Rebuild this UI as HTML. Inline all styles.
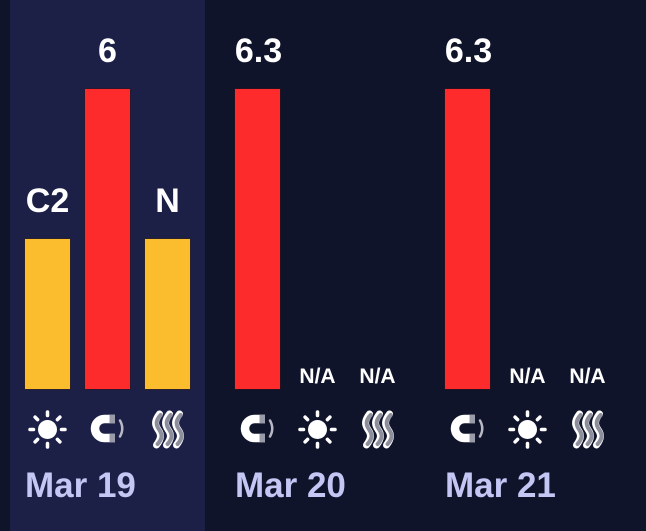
<!DOCTYPE html>
<html>
<head>
<meta charset="utf-8">
<style>
  html, body { margin: 0; padding: 0; background: #10142b; }
  svg { display: block; }
  text { font-family: "Liberation Sans", Arial, sans-serif; font-weight: bold; }
</style>
</head>
<body>
<svg width="646" height="531" viewBox="0 0 646 531" xmlns="http://www.w3.org/2000/svg">
  <defs>
    <g id="sun">
      <circle cx="0" cy="0" r="9.5" fill="#ffffff"/>
      <g stroke="#ffffff" stroke-width="3.5" stroke-linecap="round">
        <line x1="0" y1="-14" x2="0" y2="-17.5"/>
        <line x1="0" y1="14" x2="0" y2="17.5"/>
        <line x1="-14" y1="0" x2="-17.5" y2="0"/>
        <line x1="14" y1="0" x2="17.5" y2="0"/>
        <line x1="9.9" y1="9.9" x2="12.4" y2="12.4"/>
        <line x1="-9.9" y1="9.9" x2="-12.4" y2="12.4"/>
        <line x1="9.9" y1="-9.9" x2="12.4" y2="-12.4"/>
        <line x1="-9.9" y1="-9.9" x2="-12.4" y2="-12.4"/>
      </g>
    </g>
    <g id="magnet">
      <path d="M 7.5 -9.5 H -3 A 9.5 9.5 0 0 0 -3 9.5 H 7.5" fill="none" stroke="#ffffff" stroke-width="8.5"/>
      <rect x="2" y="-13.75" width="5.5" height="8.5" fill="#9a9ba8"/>
      <rect x="2" y="5.25" width="5.5" height="8.5" fill="#9a9ba8"/>
      <path d="M 12.5 -8 Q 17 0 12.5 8" fill="none" stroke="#b8b9c4" stroke-width="2.5" stroke-linecap="round"/>
    </g>
    <g id="band">
      <path d="M 1.5 -15.5 C -3.5 -9, -3.5 -5, 0 0 S 3.5 9, -1.5 15.5" fill="none" stroke="#ffffff" stroke-width="7" stroke-linecap="round"/>
      <path d="M 2.6 -14.5 C -2.4 -9, -2.4 -5, 1.1 0 S 4.6 9, -0.4 14.5" fill="none" stroke="#8d8e9c" stroke-width="4" stroke-linecap="round"/>
    </g>
    <g id="waves">
      <use href="#band" x="-10" y="0"/>
      <use href="#band" x="0" y="0"/>
      <use href="#band" x="10" y="0"/>
    </g>
  </defs>

  <!-- backgrounds -->
  <rect x="0" y="0" width="646" height="531" fill="#10142b"/>
  <rect x="10" y="0" width="195" height="531" fill="#1c2046"/>

  <!-- Group Mar 19 -->
  <rect x="24.5" y="238.5" width="46" height="151" fill="#3a2415"/>
  <rect x="25" y="239" width="45" height="150" fill="#fbbd2d"/>
  <rect x="84.5" y="88.5" width="46" height="301" fill="#3a1015"/>
  <rect x="85" y="89" width="45" height="300" fill="#fe2b2c"/>
  <rect x="144.5" y="238.5" width="46" height="151" fill="#3a2415"/>
  <rect x="145" y="239" width="45" height="150" fill="#fbbd2d"/>

  <text x="47.5" y="212" font-size="34" fill="#ffffff" text-anchor="middle">C2</text>
  <text x="107.5" y="62" font-size="34" fill="#ffffff" text-anchor="middle">6</text>
  <text x="167.5" y="212" font-size="34" fill="#ffffff" text-anchor="middle">N</text>

  <use href="#sun" x="47.5" y="429.5"/>
  <use href="#magnet" x="107.5" y="428.5"/>
  <use href="#waves" x="168" y="429.5"/>

  <text x="25" y="497" font-size="35" fill="#c4c7f4">Mar 19</text>

  <!-- Group Mar 20 -->
  <rect x="234.5" y="88.5" width="46" height="301" fill="#3a1015"/>
  <rect x="235" y="89" width="45" height="300" fill="#fe2b2c"/>
  <text x="258.5" y="62" font-size="34" fill="#ffffff" text-anchor="middle">6.3</text>
  <text x="317.5" y="383" font-size="21" fill="#ffffff" text-anchor="middle">N/A</text>
  <text x="377.5" y="383" font-size="21" fill="#ffffff" text-anchor="middle">N/A</text>

  <use href="#magnet" x="257.5" y="428.5"/>
  <use href="#sun" x="317.5" y="429.5"/>
  <use href="#waves" x="378" y="429.5"/>

  <text x="235" y="497" font-size="35" fill="#c4c7f4">Mar 20</text>

  <!-- Group Mar 21 -->
  <rect x="444.5" y="88.5" width="46" height="301" fill="#3a1015"/>
  <rect x="445" y="89" width="45" height="300" fill="#fe2b2c"/>
  <text x="468.5" y="62" font-size="34" fill="#ffffff" text-anchor="middle">6.3</text>
  <text x="527.5" y="383" font-size="21" fill="#ffffff" text-anchor="middle">N/A</text>
  <text x="587.5" y="383" font-size="21" fill="#ffffff" text-anchor="middle">N/A</text>

  <use href="#magnet" x="467.5" y="428.5"/>
  <use href="#sun" x="527.5" y="429.5"/>
  <use href="#waves" x="588" y="429.5"/>

  <text x="445" y="497" font-size="35" fill="#c4c7f4">Mar 21</text>
</svg>
</body>
</html>
